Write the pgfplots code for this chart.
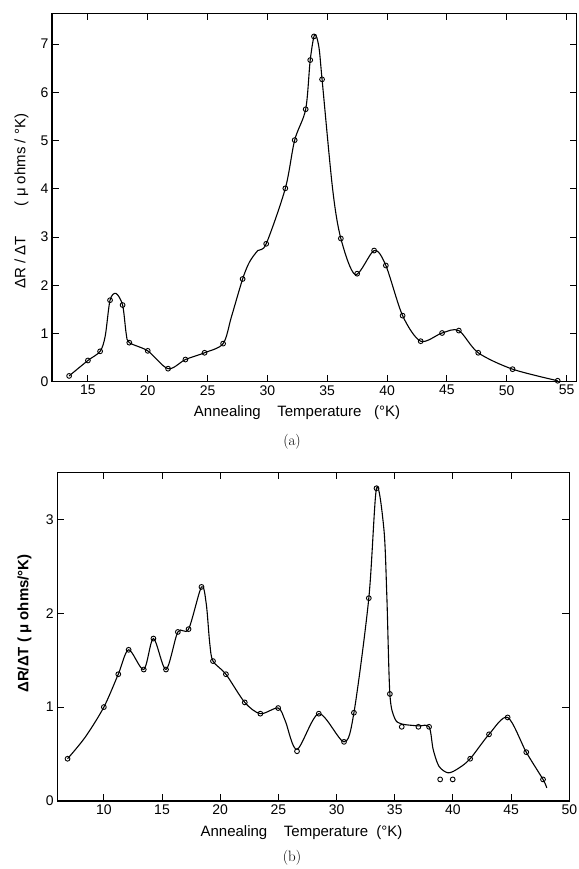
\documentclass[border=0pt]{standalone}
\usepackage{pgfplots}
\pgfplotsset{compat=1.18}
\usepackage{fontspec}
\newfontfamily\sansf{Liberation Sans}

% measured data points (panel a)
\pgfplotstableread{
x y
13.43 0.12
15.0 0.44
16.02 0.63
16.85 1.69
17.9 1.59
18.46 0.81
20.0 0.64
21.7 0.27
23.15 0.46
24.75 0.60
26.3 0.79
27.93 2.13
29.9 2.86
31.5 4.01
32.28 5.01
33.2 5.65
33.58 6.67
33.89 7.16
34.57 6.27
36.14 2.97
37.5 2.24
38.92 2.72
39.9 2.41
41.3 1.37
42.81 0.84
44.6 1.01
46.0 1.06
47.62 0.60
50.49 0.26
54.26 0.02
}\ptsA

% drawn curve (panel a)
\pgfplotstableread{
x y
13.43 0.12
15.0 0.44
16.02 0.63
16.45 0.95
16.85 1.69
17.35 1.83
17.9 1.59
18.2 1.00
18.46 0.81
20.0 0.64
21.7 0.27
23.15 0.46
24.75 0.60
26.3 0.79
27.0 1.35
27.93 2.13
28.5 2.48
29.2 2.72
29.9 2.86
31.5 4.01
32.28 5.01
33.2 5.65
33.58 6.67
33.95 7.20
34.3 6.95
34.57 6.27
35.45 4.00
36.14 2.97
37.35 2.22
38.92 2.72
39.9 2.41
41.3 1.37
42.81 0.84
44.6 1.01
46.0 1.06
47.62 0.60
50.49 0.26
54.26 0.02
}\curveA

% measured data points (panel b)
\pgfplotstableread{
x y
6.88 0.45
10.0 1.00
11.24 1.35
12.13 1.61
13.43 1.40
14.26 1.73
15.34 1.40
16.36 1.80
17.28 1.83
18.39 2.28
19.38 1.49
20.49 1.35
22.11 1.05
23.45 0.93
24.98 0.99
26.6 0.53
28.47 0.93
30.64 0.63
31.49 0.94
32.77 2.16
33.43 3.33
34.58 1.14
35.6 0.79
37.03 0.79
37.95 0.79
38.9 0.23
39.98 0.23
41.48 0.45
43.1 0.71
44.7 0.89
46.3 0.52
47.74 0.23
}\ptsB

% drawn curve (panel b)
\pgfplotstableread{
x y
6.88 0.45
8.4 0.68
10.0 1.00
11.24 1.35
12.13 1.61
13.43 1.40
14.26 1.73
15.34 1.40
16.36 1.80
17.28 1.83
18.39 2.28
18.8 2.10
19.1 1.68
19.38 1.49
20.49 1.35
22.11 1.05
23.45 0.93
24.98 0.99
25.6 0.85
26.6 0.55
28.47 0.93
30.64 0.63
31.49 0.94
32.77 2.16
33.43 3.33
34.07 2.89
34.32 2.18
34.58 1.14
35.0 0.88
35.6 0.82
37.03 0.80
37.95 0.79
38.3 0.55
38.8 0.37
39.6 0.30
40.5 0.35
41.48 0.45
43.1 0.71
44.7 0.89
46.3 0.52
47.74 0.23
48.06 0.14
}\curveB

\pgfplotsset{
  panel/.style={
    scale only axis,
    anchor=south west,
    axis line style={line width=1.4pt},
    tick align=inside,
    major tick length=7pt,
    every tick/.style={line width=1pt, black},
    /pgf/number format/assume math mode=true,
    tick label style={font=\sansf\fontsize{14}{16}\selectfont},
    label style={font=\sansf\fontsize{15}{18}\selectfont},
    xticklabel style={yshift=0pt},
  },
  crv/.style={no marks, smooth, tension=0.5, line width=1.1pt, black},
  pts/.style={only marks, mark=o, mark size=2.4pt, mark options={line width=0.9pt, fill=white, black}},
}

\begin{document}
\begin{tikzpicture}
\useasboundingbox (0,0) rectangle (578pt,-869pt);

\begin{axis}[panel,
  at={(52pt,-381.7pt)},
  width=524.7pt, height=368.4pt,
  xmin=12, xmax=55.85, ymin=0, ymax=7.64,
  xtick={15,20,...,55}, ytick={0,1,...,7},
  xlabel={Annealing\ \ \ \ Temperature\ \ \ (°K)},
  xlabel style={at={(axis description cs:0.467,-0.084)}, anchor=center},
  ylabel={ΔR / ΔT\qquad( μ ohms / °K)},
  ylabel style={at={(axis description cs:-0.058,0.49)}, anchor=center},
]
\addplot[crv] table {\curveA};
\addplot[pts] table {\ptsA};
\end{axis}

\node[font=\fontsize{15}{18}\selectfont] at (292pt,-442pt) {(a)};

\begin{axis}[panel,
  at={(57.3pt,-801pt)},
  width=512pt, height=328.7pt,
  xmin=6, xmax=50, ymin=0, ymax=3.5,
  xtick={10,15,...,50}, ytick={0,1,2,3},
  xlabel={Annealing\ \ \ \ Temperature\ \ (°K)},
  xlabel style={at={(axis description cs:0.477,-0.096)}, anchor=center},
  ylabel={ΔR/ΔT ( μ ohms/°K)},
  ylabel style={at={(axis description cs:-0.064,0.54)}, anchor=center, font=\sansf\bfseries\fontsize{15}{18}\selectfont},
]
\addplot[crv] table {\curveB};
\addplot[pts] table {\ptsB};
\end{axis}

\node[font=\fontsize{15}{18}\selectfont] at (292pt,-858pt) {(b)};
\end{tikzpicture}
\end{document}
